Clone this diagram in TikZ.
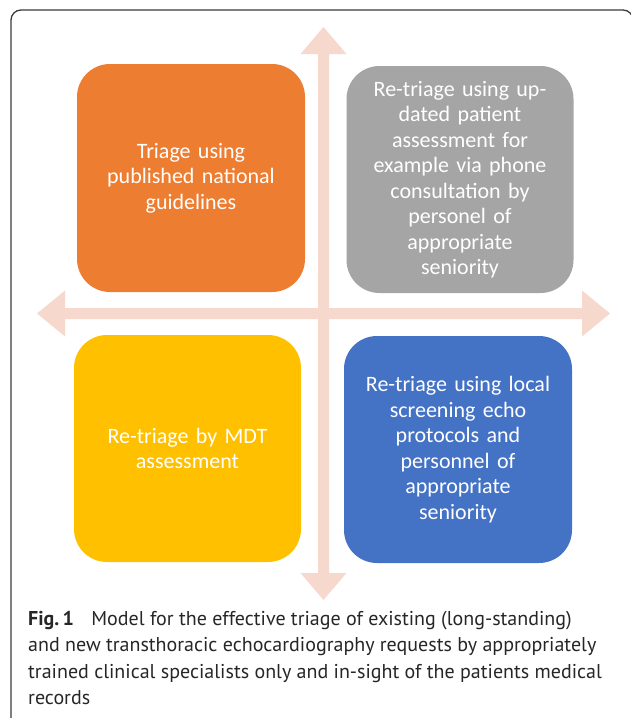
\documentclass[tikz,border=0pt]{standalone}
\usepackage{fontspec}
\setmainfont{Carlito}
\newfontfamily\capfont{PT Sans}
\definecolor{cOrange}{HTML}{ED7D31}
\definecolor{cGray}{HTML}{A5A5A5}
\definecolor{cYellow}{HTML}{FFC000}
\definecolor{cBlue}{HTML}{4472C4}
\definecolor{cArrow}{HTML}{F7D8CC}
\definecolor{cFrame}{HTML}{3A3A3A}
\begin{document}
\begin{tikzpicture}[x=1pt,y=-1pt,
  quad/.style={rounded corners=33pt, minimum width=227pt, minimum height=227pt,
    inner sep=0pt, text=white, align=center, text width=210pt,
    font=\fontsize{22}{25.5}\selectfont},
  arrowshape/.style={fill=cArrow, draw=none},
  framestyle/.style={draw=cFrame, line width=1.3pt, rounded corners=10pt}]
\useasboundingbox (0,0) rectangle (630,718);
% frame
\draw[framestyle] (11,730) -- (11,10) -- (633,10) -- (633,730);
% arrows
\fill[arrowshape] (318,54) -- (300.5,54) -- (323.5,27) -- (346.5,54) -- (329,54)
  -- (329,573) -- (346.5,573) -- (323.5,600) -- (300.5,573) -- (318,573) -- cycle;
\fill[arrowshape] (65,308) -- (65,290.5) -- (37,313.5) -- (65,336.5) -- (65,319)
  -- (582,319) -- (582,336.5) -- (610,313.5) -- (582,290.5) -- (582,308) -- cycle;
% boxes
\node[quad, fill=cOrange, minimum width=228pt, minimum height=228pt] (tl) at (191,178)
  {Triage using\\published national\\guidelines};
\node[quad, fill=cGray] (tr) at (460,179.5)
  {Re-triage using up-\\dated patient\\assessment for\\example via phone\\consultation by\\personel of\\appropriate\\seniority};
\node[quad, fill=cYellow] (bl) at (187.5,448.5)
  {Re-triage by MDT\\assessment};
\node[quad, fill=cBlue, minimum width=228pt] (br) at (458,449.5)
  {Re-triage using local\\screening echo\\protocols and\\personnel of\\appropriate\\seniority};
% caption
\node[anchor=north west, inner sep=0pt, align=left, text=black!85,
  font=\capfont\fontsize{20}{26.5}\selectfont] (cap) at (28,611)
  {\textbf{Fig.\,1}\hspace{0.6em} Model for the effective triage of existing (long-standing)\\
   and new transthoracic echocardiography requests by appropriately\\
   trained clinical specialists only and in-sight of the patients medical\\
   records};
\end{tikzpicture}
\end{document}
